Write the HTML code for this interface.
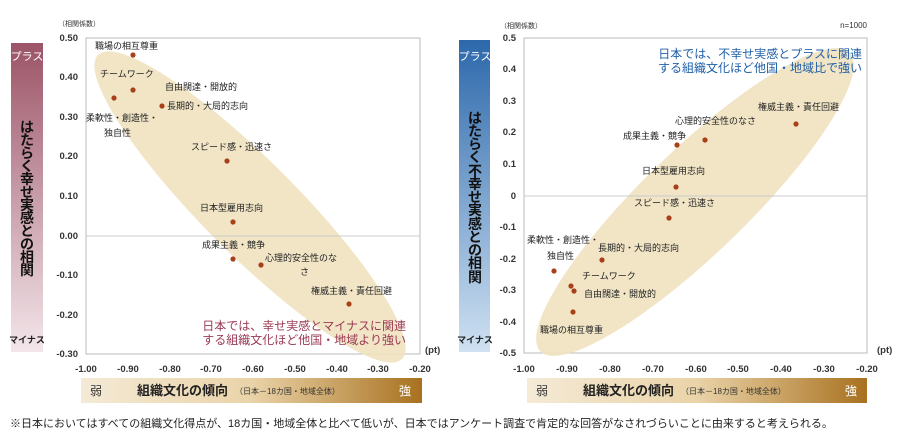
<!DOCTYPE html>
<html><head><meta charset="utf-8"><style>
body{margin:0;background:#fff}
svg{display:block;font-family:"Liberation Sans","Noto Sans CJK JP",sans-serif}
.t{font-size:9px;fill:#222}
.ax{font-size:9.5px;fill:#333;font-weight:bold}
.v{font-size:14px;font-weight:bold;fill:#111}
</style></head><body>
<svg width="902" height="436" viewBox="0 0 902 436">
<defs>
<linearGradient id="gp" x1="0" y1="0" x2="0" y2="1"><stop offset="0" stop-color="#9c5468"/><stop offset="1" stop-color="#f3e6ea"/></linearGradient>
<linearGradient id="gb" x1="0" y1="0" x2="0" y2="1"><stop offset="0" stop-color="#2c68ab"/><stop offset="1" stop-color="#cfe1f2"/></linearGradient>
<linearGradient id="gx" x1="0" y1="0" x2="1" y2="0"><stop offset="0" stop-color="#f4ead6"/><stop offset="0.5" stop-color="#ead3a8"/><stop offset="1" stop-color="#a8711f"/></linearGradient>
</defs>
<!-- LEFT -->
<rect x="11" y="43" width="32" height="309" fill="url(#gp)"/>
<text x="27" y="60" font-size="11" fill="#fff" text-anchor="middle">プラス</text>
<text x="27" y="343" font-size="9" fill="#222" text-anchor="middle" font-weight="bold">マイナス</text>
<g class="v" text-anchor="middle">
<text x="27" y="132">は</text><text x="27" y="145">た</text><text x="27" y="158">ら</text><text x="27" y="171">く</text><text x="27" y="184">幸</text><text x="27" y="197">せ</text><text x="27" y="210">実</text><text x="27" y="223">感</text><text x="27" y="236">と</text><text x="27" y="249">の</text><text x="27" y="262">相</text><text x="27" y="275">関</text>
</g>
<text x="58" y="26" font-size="7" fill="#333">（相関係数）</text>
<rect x="86" y="38" width="334" height="316" fill="#fff" stroke="#bbb"/>
<ellipse cx="250" cy="207" rx="215" ry="47" fill="#f0e2c0" opacity="0.9" transform="rotate(45 250 207)"/>
<line x1="86" y1="236" x2="420" y2="236" stroke="#ccc"/>
<g class="ax" text-anchor="end">
<text x="78" y="41">0.50</text><text x="78" y="80">0.40</text><text x="78" y="120">0.30</text><text x="78" y="159">0.20</text><text x="78" y="199">0.10</text><text x="78" y="239">0.00</text><text x="78" y="278">-0.10</text><text x="78" y="318">-0.20</text><text x="78" y="357">-0.30</text>
</g>
<g class="ax" text-anchor="middle">
<text x="86" y="372">-1.00</text><text x="128" y="372">-0.90</text><text x="170" y="372">-0.80</text><text x="211" y="372">-0.70</text><text x="253" y="372">-0.60</text><text x="295" y="372">-0.50</text><text x="337" y="372">-0.40</text><text x="378" y="372">-0.30</text><text x="420" y="372">-0.20</text>
</g>
<text x="425" y="353" class="ax">(pt)</text>
<g fill="#a8401a">
<circle cx="133" cy="55" r="2.6"/><circle cx="133" cy="90" r="2.6"/><circle cx="114" cy="98" r="2.6"/><circle cx="162" cy="106" r="2.6"/><circle cx="227" cy="161" r="2.6"/><circle cx="233" cy="222" r="2.6"/><circle cx="233" cy="259" r="2.6"/><circle cx="261" cy="265" r="2.6"/><circle cx="349" cy="304" r="2.6"/>
</g>
<g class="t">
<text x="95" y="49">職場の相互尊重</text><text x="100" y="77">チームワーク</text><text x="165" y="90">自由闊達・開放的</text><text x="167" y="109">長期的・大局的志向</text><text x="86" y="121">柔軟性・創造性・</text><text x="104" y="136">独自性</text><text x="191" y="150">スピード感・迅速さ</text><text x="200" y="211">日本型雇用志向</text><text x="202" y="248">成果主義・競争</text><text x="265" y="261">心理的安全性のな</text><text x="300" y="275">さ</text><text x="311" y="294">権威主義・責任回避</text>
</g>
<text x="406" y="330" font-size="12" fill="#9b3a55" text-anchor="end">日本では、幸せ実感とマイナスに関連</text>
<text x="406" y="344" font-size="12" fill="#9b3a55" text-anchor="end">する組織文化ほど他国・地域より強い</text>
<rect x="81" y="378" width="341" height="25" fill="url(#gx)"/>
<text x="90" y="395" font-size="12" fill="#333">弱</text>
<text x="137" y="395" font-size="13" font-weight="bold" fill="#222">組織文化の傾向</text>
<text x="235" y="394" font-size="8" fill="#333">（日本－18カ国・地域全体）</text>
<text x="399" y="395" font-size="12" fill="#fff">強</text>
<!-- RIGHT -->
<rect x="459" y="40" width="31" height="312" fill="url(#gb)"/>
<text x="475" y="60" font-size="11" fill="#fff" text-anchor="middle">プラス</text>
<text x="475" y="343" font-size="9" fill="#222" text-anchor="middle" font-weight="bold">マイナス</text>
<g class="v" text-anchor="middle">
<text x="475" y="123">は</text><text x="475" y="136">た</text><text x="475" y="149">ら</text><text x="475" y="162">く</text><text x="475" y="176">不</text><text x="475" y="189">幸</text><text x="475" y="202">せ</text><text x="475" y="215">実</text><text x="475" y="229">感</text><text x="475" y="242">と</text><text x="475" y="255">の</text><text x="475" y="268">相</text><text x="475" y="282">関</text>
</g>
<text x="500" y="28" font-size="7" fill="#333">（相関係数）</text>
<text x="867" y="28" font-size="8" fill="#333" text-anchor="end">n=1000</text>
<rect x="524" y="38" width="343" height="315" fill="#fff" stroke="#bbb"/>
<ellipse cx="695" cy="202" rx="215" ry="52" fill="#f0e2c0" opacity="0.9" transform="rotate(-44 695 202)"/>
<line x1="524" y1="196" x2="867" y2="196" stroke="#ccc"/>
<g class="ax" text-anchor="end">
<text x="516" y="41">0.5</text><text x="516" y="72">0.4</text><text x="516" y="104">0.3</text><text x="516" y="135">0.2</text><text x="516" y="167">0.1</text><text x="516" y="199">0</text><text x="516" y="230">-0.1</text><text x="516" y="262">-0.2</text><text x="516" y="293">-0.3</text><text x="516" y="325">-0.4</text><text x="516" y="356">-0.5</text>
</g>
<g class="ax" text-anchor="middle">
<text x="524" y="372">-1.00</text><text x="567" y="372">-0.90</text><text x="610" y="372">-0.80</text><text x="653" y="372">-0.70</text><text x="696" y="372">-0.60</text><text x="738" y="372">-0.50</text><text x="781" y="372">-0.40</text><text x="824" y="372">-0.30</text><text x="867" y="372">-0.20</text>
</g>
<text x="877" y="353" class="ax">(pt)</text>
<g fill="#a8401a">
<circle cx="796" cy="124" r="2.6"/><circle cx="705" cy="140" r="2.6"/><circle cx="677" cy="145" r="2.6"/><circle cx="676" cy="187" r="2.6"/><circle cx="669" cy="218" r="2.6"/><circle cx="602" cy="260" r="2.6"/><circle cx="554" cy="271" r="2.6"/><circle cx="571" cy="286" r="2.6"/><circle cx="574" cy="291" r="2.6"/><circle cx="573" cy="312" r="2.6"/>
</g>
<g class="t">
<text x="758" y="110">権威主義・責任回避</text><text x="675" y="124">心理的安全性のなさ</text><text x="623" y="139">成果主義・競争</text><text x="642" y="174">日本型雇用志向</text><text x="634" y="206">スピード感・迅速さ</text><text x="598" y="251">長期的・大局的志向</text><text x="527" y="243">柔軟性・創造性・</text><text x="547" y="259">独自性</text><text x="582" y="279">チームワーク</text><text x="584" y="297">自由闊達・開放的</text><text x="540" y="333">職場の相互尊重</text>
</g>
<text x="862" y="58" font-size="12" fill="#1f5fa8" text-anchor="end">日本では、不幸せ実感とプラスに関連</text>
<text x="862" y="72" font-size="12" fill="#1f5fa8" text-anchor="end">する組織文化ほど他国・地域比で強い</text>
<rect x="527" y="378" width="340" height="25" fill="url(#gx)"/>
<text x="536" y="395" font-size="12" fill="#333">弱</text>
<text x="583" y="395" font-size="13" font-weight="bold" fill="#222">組織文化の傾向</text>
<text x="681" y="394" font-size="8" fill="#333">（日本－18カ国・地域全体）</text>
<text x="845" y="395" font-size="12" fill="#fff">強</text>
<text x="10" y="427" font-size="11" fill="#222">※日本においてはすべての組織文化得点が、18カ国・地域全体と比べて低いが、日本ではアンケート調査で肯定的な回答がなされづらいことに由来すると考えられる。</text>
</svg>
</body></html>
